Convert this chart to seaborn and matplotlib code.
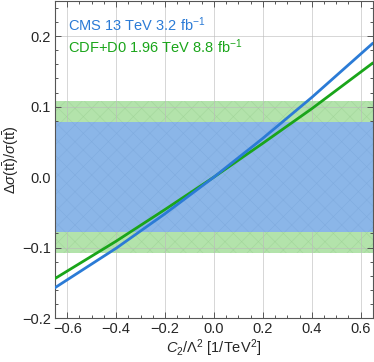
import numpy as np
import pandas as pd
import seaborn as sns
import matplotlib.pyplot as plt
from matplotlib.ticker import MultipleLocator

# ----------------------------
# Data
# ----------------------------
c2 = [-0.65, -0.4, -0.2, 0.0, 0.2, 0.4, 0.65]
cms_13tev = [-0.157, -0.101, -0.052, 0.0, 0.055, 0.113, 0.190]
tevatron = [-0.144, -0.091, -0.046, 0.0, 0.048, 0.097, 0.162]

cms_band = 0.078
tev_band = 0.108

blue = "#2b7bd6"
green = "#1aa51a"

df = pd.DataFrame({"c2": c2 * 2,
                   "delta": cms_13tev + tevatron,
                   "exp": ["CMS"] * len(c2) + ["Tevatron"] * len(c2)})

# ----------------------------
# Plot
# ----------------------------
sns.set_style("ticks")
plt.rcParams['font.family'] = ['Liberation Sans', 'DejaVu Sans']
plt.rcParams['mathtext.fontset'] = 'custom'
plt.rcParams['mathtext.rm'] = 'Liberation Sans'
plt.rcParams['mathtext.it'] = 'Liberation Sans:italic'
plt.rcParams['hatch.linewidth'] = 0.4

fig = plt.figure(figsize=(3.74, 3.62), dpi=100)
ax = fig.add_axes([0.147, 0.1215, 0.85, 0.876])

# uncertainty bands
ax.axhspan(-tev_band, tev_band, color="#b3e3ab", lw=0, zorder=0)
ax.axhspan(-tev_band, tev_band, facecolor="none", edgecolor="#a2d69a",
           hatch="xx", lw=0, zorder=0.5)
ax.axhspan(-cms_band, cms_band, color="#8bb6e8", lw=0, zorder=0.6)
ax.axhspan(-cms_band, cms_band, facecolor="none", edgecolor="#80acdf",
           hatch="xx", lw=0, zorder=0.7)

ax.grid(True, color="#bbbbbb", lw=0.6, alpha=0.7)
for gl in ax.get_xgridlines() + ax.get_ygridlines():
    gl.set_zorder(1)

sns.lineplot(data=df, x="c2", y="delta", hue="exp",
             palette={"CMS": blue, "Tevatron": green},
             hue_order=["Tevatron", "CMS"],
             lw=2, legend=False, ax=ax, zorder=3)

ax.set_xlim(-0.65, 0.65)
ax.set_ylim(-0.2, 0.25)
ax.xaxis.set_major_locator(MultipleLocator(0.2))
ax.xaxis.set_minor_locator(MultipleLocator(0.05))
ax.yaxis.set_major_locator(MultipleLocator(0.1))
ax.yaxis.set_minor_locator(MultipleLocator(0.02))
ax.xaxis.set_major_formatter(plt.FuncFormatter(lambda v, p: f"{v:.1f}".replace("-", "\u2212")))
ax.yaxis.set_major_formatter(plt.FuncFormatter(lambda v, p: f"{v:.1f}".replace("-", "\u2212")))
ax.tick_params(which="both", direction="in", top=True, right=True,
               labelsize=10.5, color="#555555", width=0.7)
ax.tick_params(which="major", length=4, pad=3)
ax.tick_params(which="minor", length=2)
for s in ax.spines.values():
    s.set_color("#555555")
    s.set_linewidth(0.8)

ax.set_xlabel(r"$C_2/\Lambda^2$ [1/TeV$^2$]", fontsize=10.5, labelpad=1)
ax.set_ylabel(r"$\Delta\sigma(\mathrm{t\bar{t}})/\sigma(\mathrm{t\bar{t}})$", fontsize=10.5, labelpad=1)

ax.text(0.04, 0.955, r"CMS 13 TeV 3.2 fb$^{-1}$", color=blue, fontsize=10.5,
        transform=ax.transAxes, va="top")
ax.text(0.04, 0.885, r"CDF+D0 1.96 TeV 8.8 fb$^{-1}$", color=green, fontsize=10.5,
        transform=ax.transAxes, va="top")

plt.savefig("out.png", dpi=100)
plt.close()
